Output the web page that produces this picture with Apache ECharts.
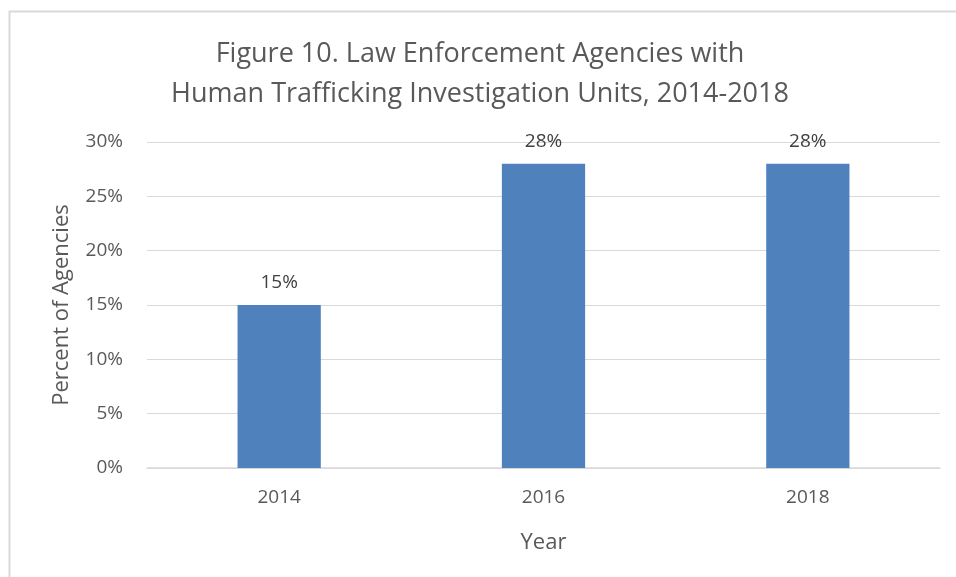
<!DOCTYPE html>
<html><head><meta charset="utf-8">
<script src="https://cdn.jsdelivr.net/npm/echarts@6/dist/echarts.min.js"></script>
<style>html,body{margin:0;padding:0;background:#fff}#c{width:956px;height:577px}</style>
</head><body><div id="c"></div>
<script>
const categories = ['2014', '2016', '2018'];
const values = [15, 28, 28];
const yTicks = [0, 5, 10, 15, 20, 25, 30];

const chart = echarts.init(document.getElementById('c'));
const font = 'Open Sans';
chart.setOption({
  animation: false,
  graphic: [{type: 'rect', shape: {x: 9.5, y: 11.5, width: 1000, height: 1000}, style: {fill: 'none', stroke: '#d9d9d9', lineWidth: 2}}],
  title: {
    text: 'Figure 10. Law Enforcement Agencies with\nHuman Trafficking Investigation Units, 2014-2018',
    left: 475, top: 29, textAlign: 'center',
    textStyle: {fontFamily: font, fontSize: 27, fontWeight: 'normal', color: '#595959', lineHeight: 40}
  },
  grid: {left: 147, right: 16, top: 142, bottom: 109},
  xAxis: {
    type: 'category', data: categories,
    name: 'Year', nameLocation: 'middle', nameGap: 64,
    nameTextStyle: {fontFamily: font, fontSize: 22, color: '#595959'},
    axisLine: {lineStyle: {color: '#d9d9d9', width: 1.5}},
    axisTick: {show: false},
    axisLabel: {fontFamily: font, fontSize: 19, color: '#595959', margin: 20}
  },
  yAxis: {
    type: 'value', min: 0, max: 30, interval: 5,
    name: 'Percent of Agencies', nameLocation: 'middle', nameGap: 74,
    nameTextStyle: {fontFamily: font, fontSize: 22, color: '#595959'},
    axisLine: {show: false}, axisTick: {show: false},
    axisLabel: {fontFamily: font, fontSize: 19, color: '#595959', margin: 24, formatter: v => v + '%'},
    splitLine: {lineStyle: {color: '#d9d9d9', width: 1}}
  },
  series: [{
    type: 'bar', data: values, barWidth: '31.5%',
    itemStyle: {color: '#4f81bd'},
    label: {show: true, position: 'top', distance: 13, formatter: p => p.value + '%', fontFamily: font, fontSize: 19, color: '#404040'}
  }]
});
</script></body></html>
